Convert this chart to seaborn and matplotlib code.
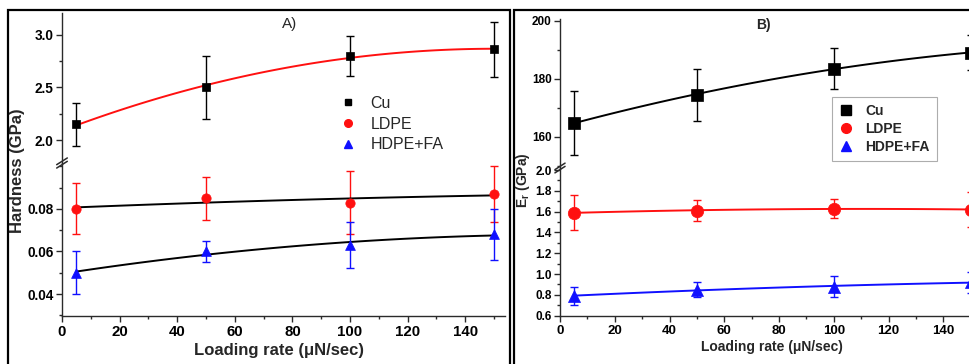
import numpy as np
import pandas as pd
import matplotlib
matplotlib.use("Agg")
import matplotlib.pyplot as plt
import seaborn as sns
from matplotlib.lines import Line2D
from matplotlib.patches import Rectangle
from matplotlib.ticker import MultipleLocator, FormatStrFormatter

# ---------------- data ----------------
rate = [5, 50, 100, 150]
series = ["Cu", "LDPE", "HDPE+FA"]

# Panel A: hardness (GPa)
hard_cu = [2.15, 2.50, 2.80, 2.86]
hard_cu_err = [0.20, 0.30, 0.19, 0.26]
hard_ldpe = [0.080, 0.085, 0.083, 0.087]
hard_ldpe_err = [0.012, 0.010, 0.015, 0.013]
hard_hdpe = [0.050, 0.060, 0.063, 0.068]
hard_hdpe_err = [0.010, 0.005, 0.011, 0.012]

# Panel B: reduced modulus Er (GPa)
er_cu = [164.7, 174.5, 183.5, 189.0]
er_cu_err = [11.0, 9.0, 7.0, 6.0]
er_ldpe = [1.59, 1.61, 1.63, 1.62]
er_ldpe_err = [0.17, 0.10, 0.09, 0.17]
er_hdpe = [0.79, 0.85, 0.88, 0.92]
er_hdpe_err = [0.09, 0.07, 0.10, 0.10]

x_ticks = [0, 20, 40, 60, 80, 100, 120, 140]

# ---------------- style ----------------
sns.set_theme(style="ticks")
plt.rcParams["font.family"] = ["Liberation Sans", "DejaVu Sans"]
plt.rcParams["font.weight"] = "bold"
plt.rcParams["mathtext.fontset"] = "custom"
plt.rcParams["mathtext.rm"] = "Liberation Sans:bold"
plt.rcParams["mathtext.bf"] = "Liberation Sans:bold"
plt.rcParams["mathtext.it"] = "Liberation Sans:italic:bold"

W, H = 970, 364
fig = plt.figure(figsize=(W / 100, H / 100), dpi=100)
fig.patch.set_facecolor("white")


def fx(px):
    return px / W


def fy(py):
    return 1 - py / H


def box(x0, y0, x1, y1):
    return [fx(x0), fy(y1), (x1 - x0) / W, (y1 - y0) / H]


SP = "#2a2a2a"


def style_axis(ax, lower, tick_fs, ymaj, ymin, fmt):
    ax.set_facecolor("none")
    for s in ["top", "right"]:
        ax.spines[s].set_visible(False)
    ax.spines["left"].set_color(SP)
    ax.spines["left"].set_linewidth(1.0)
    if lower:
        ax.spines["bottom"].set_color(SP)
        ax.spines["bottom"].set_linewidth(1.0)
        ax.set_xticks(x_ticks)
        ax.xaxis.set_minor_locator(MultipleLocator(10))
        ax.tick_params(axis="x", which="both", direction="out", colors=SP,
                       labelcolor="black", labelsize=tick_fs + 1, width=1.0)
        ax.tick_params(axis="x", which="major", length=4, pad=3)
        ax.tick_params(axis="x", which="minor", length=2.5)
    else:
        ax.spines["bottom"].set_visible(False)
        ax.tick_params(axis="x", which="both", bottom=False, labelbottom=False)
    ax.yaxis.set_major_locator(MultipleLocator(ymaj))
    ax.yaxis.set_minor_locator(MultipleLocator(ymin))
    ax.yaxis.set_major_formatter(FormatStrFormatter(fmt))
    ax.tick_params(axis="y", which="both", direction="out", colors=SP,
                   labelcolor="black", labelsize=tick_fs, width=1.0, pad=2)
    ax.tick_params(axis="y", which="major", length=4)
    ax.tick_params(axis="y", which="minor", length=2.5)
    ax.set_xlabel("")
    ax.set_ylabel("")


def draw_series(ax, y, err, marker, mcolor, ecolor, lcolor, msize):
    ax.errorbar(rate, y, yerr=err, fmt="none", ecolor=ecolor, elinewidth=1.0,
                capsize=3, capthick=1.0, zorder=2)
    sns.regplot(x=np.array(rate, float), y=np.array(y, float), order=2,
                ci=None, scatter=False, truncate=True, ax=ax,
                line_kws=dict(color=lcolor, lw=1.4, zorder=3))
    sns.scatterplot(x=rate, y=y, marker=marker, color=mcolor, s=msize,
                    edgecolor=mcolor, linewidth=0.5, ax=ax, zorder=4,
                    legend=False)


def break_marks(ax_lower):
    d = 0.012
    for off in (-0.011, 0.011):
        ax_lower.plot([-d, d], [1 - 0.022 + off, 1 + 0.022 + off],
                      transform=ax_lower.transAxes, color=SP, lw=1.1,
                      clip_on=False, zorder=10)


RED = "#ff1010"
BLUE = "#1010ff"

# ---------------- panel A ----------------
axA_up = fig.add_axes(box(62, 13, 505.5, 163))
axA_lo = fig.add_axes(box(62, 163, 505.5, 315.7))
for ax in (axA_up, axA_lo):
    ax.set_xlim(0, 154)
axA_up.set_ylim(1.785, 3.205)
axA_lo.set_ylim(0.0298, 0.1016)

draw_series(axA_up, hard_cu, hard_cu_err, "s", "black", "black", RED, 40)
draw_series(axA_lo, hard_ldpe, hard_ldpe_err, "o", RED, RED, "black", 45)
draw_series(axA_lo, hard_hdpe, hard_hdpe_err, "^", BLUE, BLUE, "black", 50)

style_axis(axA_up, False, 9.8, 0.5, 0.25, "%.1f")
style_axis(axA_lo, True, 9.8, 0.02, 0.01, "%.2f")
axA_lo.set_yticks([0.04, 0.06, 0.08])
break_marks(axA_lo)

handlesA = [
    Line2D([], [], marker="s", color="black", ls="", markersize=5),
    Line2D([], [], marker="o", color=RED, ls="", markersize=5.5),
    Line2D([], [], marker="^", color=BLUE, ls="", markersize=5.5),
]
fig.legend(handlesA, series, loc="upper left", bbox_to_anchor=(fx(340), fy(96)),
           frameon=False, handlelength=1.0, handletextpad=0.9,
           labelspacing=0.35, borderaxespad=0, borderpad=0,
           prop=dict(weight="normal", size=11.5))

fig.text(fx(290), fy(24), "A)", ha="center", va="center", fontsize=11,
         fontweight="normal")
fig.text(fx(279), fy(350), "Loading rate (\u03bcN/sec)", ha="center", va="center",
         fontsize=12, fontweight="bold")
fig.text(fx(18), fy(171), "Hardness (GPa)", ha="center", va="center",
         rotation=90, fontsize=12, fontweight="bold")

# ---------------- panel B ----------------
axB_up = fig.add_axes(box(560, 19, 981.7, 168))
axB_lo = fig.add_axes(box(560, 168, 981.7, 315.7))
for ax in (axB_up, axB_lo):
    ax.set_xlim(0, 154)
axB_up.set_ylim(149.2, 200.6)
axB_lo.set_ylim(0.6, 2.02)

draw_series(axB_up, er_cu, er_cu_err, "s", "black", "black", "black", 65)
draw_series(axB_lo, er_ldpe, er_ldpe_err, "o", RED, RED, RED, 80)
draw_series(axB_lo, er_hdpe, er_hdpe_err, "^", BLUE, BLUE, BLUE, 75)

style_axis(axB_up, False, 8.5, 20, 10, "%d")
style_axis(axB_lo, True, 8.5, 0.2, 0.1, "%.1f")
axB_lo.set_yticks(np.arange(0.6, 2.01, 0.2))
axB_lo.yaxis.set_major_formatter(FormatStrFormatter("%.1f"))
break_marks(axB_lo)

handlesB = [
    Line2D([], [], marker="s", color="black", ls="", markersize=6.5),
    Line2D([], [], marker="o", color=RED, ls="", markersize=7),
    Line2D([], [], marker="^", color=BLUE, ls="", markersize=7),
]
legB = fig.legend(handlesB, series, loc="upper left",
                  bbox_to_anchor=(fx(832), fy(97)), frameon=True, fancybox=False,
                  handlelength=1.0, handletextpad=0.9,
                  labelspacing=0.3, borderaxespad=0, borderpad=0.5,
                  prop=dict(weight="bold", size=10))
legB.get_frame().set_edgecolor("#999999")
legB.get_frame().set_linewidth(0.8)

fig.text(fx(763), fy(25), "B)", ha="center", va="center", fontsize=10,
         fontweight="bold")
fig.text(fx(772), fy(347), "Loading rate (\u03bcN/sec)", ha="center", va="center",
         fontsize=10, fontweight="bold")
fig.text(fx(523), fy(180), r"E$_\mathregular{r}$ (GPa)", ha="center", va="center",
         rotation=90, fontsize=10, fontweight="bold")

# ---------------- panel frames ----------------
fig.patches.append(Rectangle((fx(8.5), fy(420)), (510 - 8.5) / W, (420 - 10.5) / H,
                             transform=fig.transFigure, fill=False,
                             edgecolor="black", lw=1.6))
fig.patches.append(Rectangle((fx(513.5), fy(420)), (1100 - 513.5) / W, (420 - 10.5) / H,
                             transform=fig.transFigure, fill=False,
                             edgecolor="black", lw=1.6))

fig.savefig("out.png", dpi=100)
